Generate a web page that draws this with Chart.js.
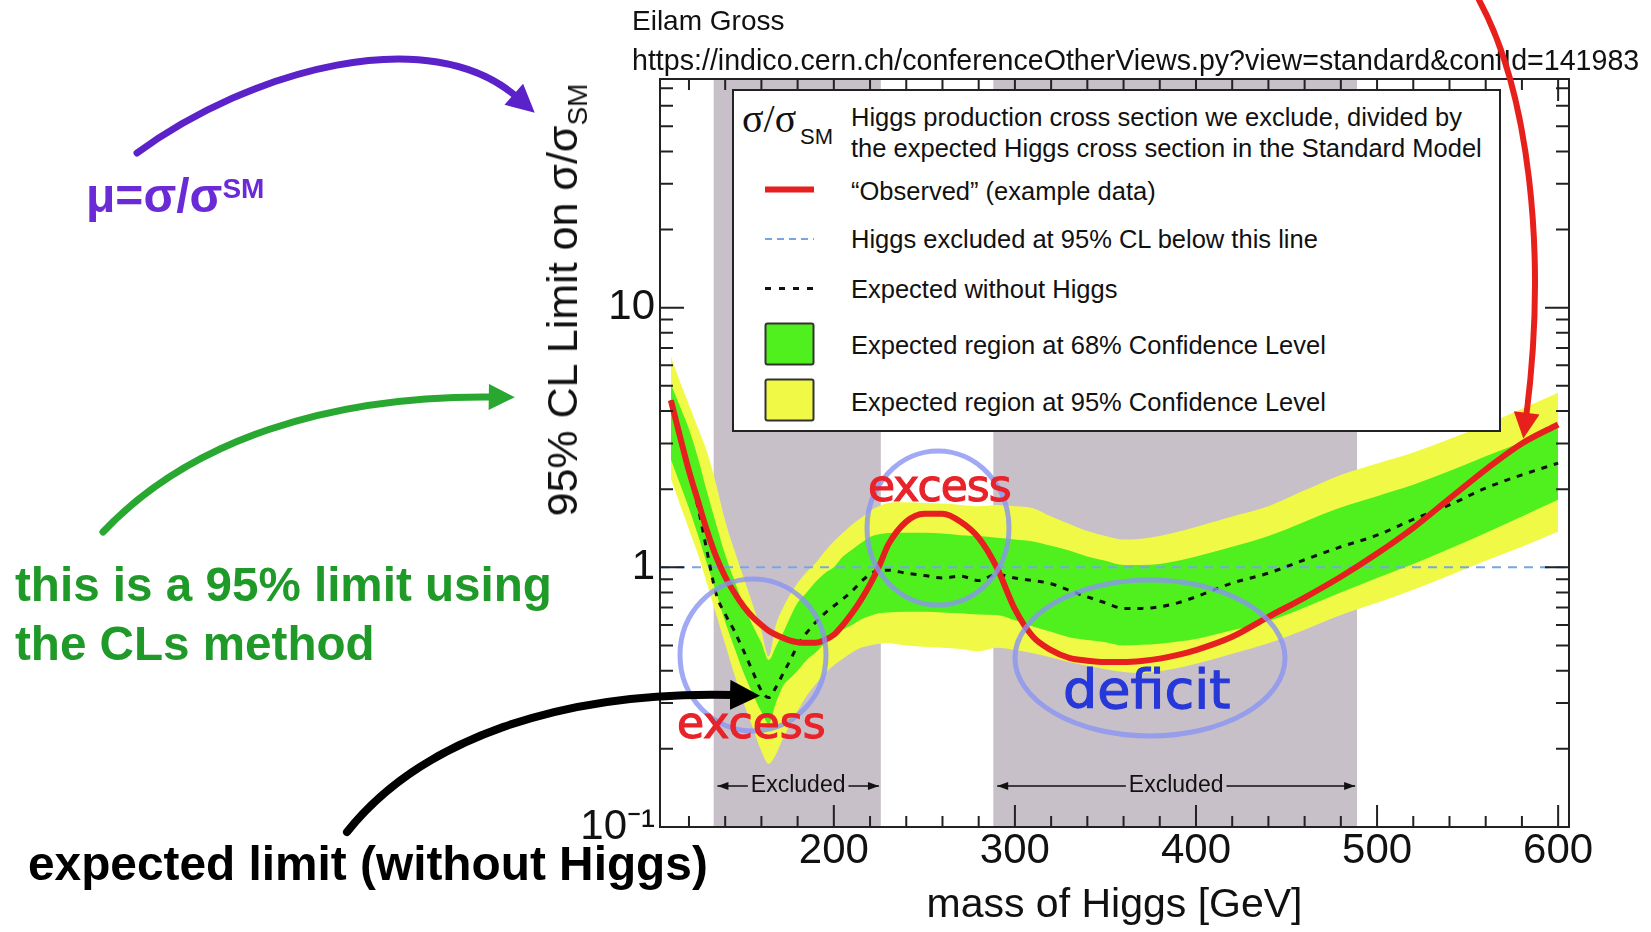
<!DOCTYPE html>
<html>
<head>
<meta charset="utf-8">
<title>95% CL limit on sigma/sigma_SM</title>
<script src="https://cdn.jsdelivr.net/npm/chart.js@4.4.1/dist/chart.umd.min.js"></script>
<style>
  html, body { margin: 0; padding: 0; background: #fff; }
  body { position: relative; width: 1651px; height: 932px; overflow: hidden;
         font-family: "Liberation Sans", Arial, sans-serif; color: #111; }
  #plot { position: absolute; left: 0; top: 0; width: 1651px; height: 932px; }
  .t { position: absolute; white-space: nowrap; }
  .ov { position: absolute; left: 0; top: 0; pointer-events: none; }
  #legend { position: absolute; left: 732px; top: 89px; width: 765px; height: 339px;
            border: 2px solid #222; background: #fff; }
  .lg { font-size: 25.5px; line-height: 25px; left: 851px; }
  .hand { font-family: "DejaVu Sans", sans-serif; -webkit-text-stroke: 1.2px currentColor; }
</style>
</head>
<body>

<div id="plot"><canvas id="chart"></canvas></div>

<div id="legend"></div>

<svg class="ov" width="1651" height="932">
  <!-- legend samples -->
  <line x1="765" y1="189.5" x2="814" y2="189.5" stroke="#e6201e" stroke-width="6"/>
  <line x1="765" y1="239" x2="814" y2="239" stroke="#78a6e4" stroke-width="2" stroke-dasharray="7 5"/>
  <line x1="765" y1="288.5" x2="814" y2="288.5" stroke="#111" stroke-width="3" stroke-dasharray="6 8"/>
  <rect x="765.5" y="323.5" width="48" height="41" rx="2" fill="rgb(80,240,30)" stroke="#333" stroke-width="2"/>
  <rect x="765.5" y="379.5" width="48" height="41" rx="2" fill="rgb(240,250,70)" stroke="#333" stroke-width="2"/>
  <!-- hand drawn circles -->
  <g fill="none" stroke="#8a94f2" stroke-width="5" opacity="0.8">
    <ellipse cx="753" cy="655" rx="73" ry="76"/>
    <ellipse cx="938" cy="528" rx="71" ry="77"/>
    <ellipse cx="1150" cy="658" rx="135" ry="78"/>
  </g>
</svg>

<!-- legend text -->
<div class="t" style="left:742px;top:98.5px;font-family:'Liberation Serif',serif;font-size:40px;line-height:40px">σ/σ</div>
<div class="t" style="left:800px;top:126px;font-size:22px;line-height:22px">SM</div>
<div class="t" style="left:851px;top:101.5px;font-size:25.5px;line-height:31.5px">Higgs production cross section we exclude, divided by<br>the expected Higgs cross section in the Standard Model</div>
<div class="t lg" style="top:179.4px">“Observed” (example data)</div>
<div class="t lg" style="top:226.8px">Higgs excluded at 95% CL below this line</div>
<div class="t lg" style="top:277.4px">Expected without Higgs</div>
<div class="t lg" style="top:333.2px">Expected region at 68% Confidence Level</div>
<div class="t lg" style="top:390px">Expected region at 95% Confidence Level</div>

<!-- axis title -->
<div class="t" style="left:565px;top:300px;font-size:43px;line-height:43px;transform:translate(-50%,-50%) rotate(-90deg)">95% CL Limit on σ/σ<span style="font-size:28px;position:relative;top:10px">SM</span></div>

<!-- slide annotations -->
<div class="t" style="left:632px;top:7px;font-size:28px;line-height:28px">Eilam Gross</div>
<div class="t" style="left:632px;top:45.5px;font-size:28.6px;line-height:29px">https://indico.cern.ch/conferenceOtherViews.py?view=standard&amp;confId=141983</div>
<div class="t" style="left:86px;top:172px;font-size:48px;line-height:47px;font-weight:bold;color:#6a2bd6">μ=σ/σ<span style="font-size:28px;position:relative;top:-14px">SM</span></div>
<div class="t" style="left:15px;top:555px;font-size:47.6px;line-height:59px;font-weight:bold;color:#1f9a28">this is a 95% limit using<br>the CLs method</div>
<div class="t" style="left:28px;top:840px;font-size:47.8px;line-height:47px;font-weight:bold;color:#000">expected limit (without Higgs)</div>
<div class="t hand" style="left:868px;top:464px;font-size:44px;line-height:44px;letter-spacing:-1px;color:#e8232a">excess</div>
<div class="t hand" style="left:677px;top:701px;font-size:44px;line-height:44px;color:#e8232a">excess</div>
<div class="t hand" style="left:1063px;top:663px;font-size:54px;line-height:54px;color:#2638d8">deficit</div>

<svg class="ov" width="1651" height="932">
  <defs>
    <marker id="mP" viewBox="0 0 10 10" refX="2" refY="5" markerWidth="30" markerHeight="28" markerUnits="userSpaceOnUse" orient="auto"><path d="M0,0 L10,5 L0,10 z" fill="#5a22c8"/></marker>
    <marker id="mG" viewBox="0 0 10 10" refX="2" refY="5" markerWidth="30" markerHeight="26" markerUnits="userSpaceOnUse" orient="auto"><path d="M0,0 L10,5 L0,10 z" fill="#28a830"/></marker>
    <marker id="mK" viewBox="0 0 10 10" refX="2" refY="5" markerWidth="30" markerHeight="30" markerUnits="userSpaceOnUse" orient="auto"><path d="M0,0 L10,5 L0,10 z" fill="#000"/></marker>
    <marker id="mR" viewBox="0 0 10 10" refX="2" refY="5" markerWidth="30" markerHeight="26" markerUnits="userSpaceOnUse" orient="auto"><path d="M0,0 L10,5 L0,10 z" fill="#e8201c"/></marker>
  </defs>
  <g fill="none" stroke-linecap="round">
    <path d="M137,153 C250,70 430,20 518,98" stroke="#5a22c8" stroke-width="7" marker-end="url(#mP)"/>
    <path d="M103,532 C190,440 330,395 494,397" stroke="#28a830" stroke-width="7" marker-end="url(#mG)"/>
    <path d="M347,832 C420,740 560,690 736,695" stroke="#000" stroke-width="8" marker-end="url(#mK)"/>
    <path d="M1479,0 C1528,90 1548,250 1526,418" stroke="#e8201c" stroke-width="6" marker-end="url(#mR)"/>
  </g>
</svg>

<script>
const FONT = '"Liberation Sans", Arial, sans-serif';

const X_MIN = 104;
const X_MAX = 606;
const X_TICKS = [200, 300, 400, 500, 600];
const X_TITLE = 'mass of Higgs [GeV]';

const Y_MIN = 0.1;
const Y_MAX = 76;
const Y_TICKS = [0.1, 1, 10];
const Y_TICK_LABELS = ['10⁻¹', '1', '10'];

// excluded mass ranges (grey bands)
const EXCLUDED = [[133.5, 226], [288, 489]];
const EXCLUDED_LABEL = 'Excluded';

const MASS = [110, 115, 120, 125, 130, 135, 140, 145, 150, 155, 160,
  164, 168, 172, 176, 180,
  185, 190, 195, 200, 205, 210, 215, 220, 225, 230,
  240, 250, 260, 270, 280, 290, 300, 310, 320, 330, 340, 350, 360, 370, 380, 390, 400,
  420, 440, 460, 480, 500, 520, 540, 560, 580, 600];

const OBSERVED = [4.4, 3.2, 2.35, 1.8, 1.38, 1.1, 0.92, 0.8, 0.71, 0.645, 0.6,
  0.57, 0.55, 0.535, 0.522, 0.515,
  0.512, 0.512, 0.525, 0.55, 0.6, 0.665, 0.75, 0.86, 1.01, 1.22,
  1.5, 1.61, 1.61, 1.5, 1.3, 1.0, 0.69, 0.54, 0.48, 0.448, 0.437, 0.432, 0.432, 0.436, 0.445, 0.46, 0.48,
  0.54, 0.645, 0.765, 0.92, 1.13, 1.42, 1.84, 2.38, 3.0, 3.55];

const EXPECTED = [4.4, 3.2, 2.33, 1.7, 1.15, 0.79, 0.66, 0.57, 0.48, 0.40, 0.335,
  0.315, 0.345, 0.39, 0.44, 0.5,
  0.56, 0.615, 0.665, 0.71, 0.755, 0.81, 0.88, 0.94, 0.975, 0.975,
  0.95, 0.93, 0.91, 0.925, 0.89, 0.94, 0.91, 0.89, 0.865, 0.815, 0.77, 0.73, 0.695, 0.695, 0.705, 0.73, 0.77,
  0.87, 0.95, 1.07, 1.2, 1.33, 1.53, 1.74, 2.02, 2.27, 2.52];

const GREEN_HI = [5.1, 4.17, 3.41, 2.64, 1.95, 1.47, 1.12, 0.893, 0.722, 0.601, 0.512,
  0.44, 0.496, 0.56, 0.645, 0.73,
  0.8, 0.88, 0.95, 1.0, 1.1, 1.17, 1.24, 1.31, 1.34, 1.355,
  1.36, 1.36, 1.35, 1.33, 1.32, 1.3, 1.28, 1.257, 1.21, 1.16, 1.1, 1.06, 1.02, 1.02, 1.03, 1.06, 1.1,
  1.2, 1.32, 1.5, 1.7, 1.88, 2.08, 2.35, 2.68, 3.03, 3.44];

const GREEN_LO = [2.6, 2.1, 1.69, 1.33, 1.03, 0.8, 0.617, 0.492, 0.395, 0.328, 0.277,
  0.25, 0.3, 0.35, 0.375, 0.4,
  0.44, 0.47, 0.51, 0.54, 0.575, 0.6, 0.63, 0.65, 0.665, 0.67,
  0.675, 0.675, 0.67, 0.665, 0.658, 0.655, 0.625, 0.592, 0.565, 0.538, 0.525, 0.515, 0.5, 0.503, 0.508, 0.518, 0.53,
  0.572, 0.62, 0.7, 0.8, 0.909, 1.03, 1.18, 1.355, 1.57, 1.82];

const YELLOW_HI = [6.5, 5.2, 4.23, 3.43, 2.78, 2.09, 1.51, 1.17, 0.922, 0.725, 0.57,
  0.455, 0.6, 0.7, 0.79, 0.87,
  0.96, 1.04, 1.15, 1.26, 1.36, 1.46, 1.55, 1.65, 1.72, 1.77,
  1.78, 1.77, 1.76, 1.74, 1.72, 1.74, 1.72, 1.69, 1.57, 1.47, 1.38, 1.32, 1.28, 1.29, 1.32, 1.37, 1.43,
  1.57, 1.72, 1.98, 2.27, 2.51, 2.77, 3.12, 3.55, 4.08, 4.7];

const YELLOW_LO = [2.2, 1.75, 1.4, 1.12, 0.863, 0.66, 0.507, 0.388, 0.303, 0.244, 0.196,
  0.175, 0.19, 0.22, 0.25, 0.28,
  0.32, 0.355, 0.39, 0.42, 0.445, 0.47, 0.49, 0.5, 0.508, 0.51,
  0.5, 0.495, 0.49, 0.485, 0.475, 0.49, 0.48, 0.467, 0.45, 0.432, 0.418, 0.405, 0.395, 0.392, 0.398, 0.41, 0.425,
  0.465, 0.51, 0.575, 0.655, 0.73, 0.82, 0.93, 1.06, 1.2, 1.37];

const RED = '#e6201e';
const GREEN = 'rgb(80,240,30)';
const YELLOW = 'rgb(240,250,70)';
const GREY = 'rgb(200,192,200)';

const pts = (ys) => MASS.map((m, i) => ({ x: m, y: ys[i] }));

// inward ticks on all four sides + frame, ROOT style
const frameTicks = {
  id: 'frameTicks',
  afterDatasetsDraw(chart) {
    const { ctx, chartArea: a, scales: { x, y } } = chart;
    ctx.save();
    ctx.strokeStyle = '#222';
    ctx.lineWidth = 2;
    ctx.beginPath();
    for (let v = 120; v <= X_MAX; v += 20) {
      const px = x.getPixelForValue(v);
      const len = X_TICKS.includes(v) ? 22 : 11;
      ctx.moveTo(px, a.bottom); ctx.lineTo(px, a.bottom - len);
      ctx.moveTo(px, a.top); ctx.lineTo(px, a.top + len);
    }
    for (let d = -1; d <= 1; d++) {
      for (let m = 1; m <= 9; m++) {
        const v = m * Math.pow(10, d);
        if (v > Y_MAX) break;
        const py = y.getPixelForValue(v);
        const len = m === 1 ? 24 : 13;
        ctx.moveTo(a.left, py); ctx.lineTo(a.left + len, py);
        ctx.moveTo(a.right, py); ctx.lineTo(a.right - len, py);
      }
    }
    ctx.stroke();
    ctx.strokeRect(a.left, a.top, a.width, a.height);
    ctx.restore();
  }
};

// "<- Excluded ->" markers under the grey bands
const excludedMarks = {
  id: 'excludedMarks',
  afterDatasetsDraw(chart) {
    const { ctx, chartArea, scales: { x } } = chart;
    const yy = chartArea.bottom - 41;
    ctx.save();
    ctx.font = '23px ' + FONT;
    ctx.fillStyle = '#111';
    ctx.strokeStyle = '#111';
    ctx.lineWidth = 1.5;
    ctx.textAlign = 'center';
    ctx.textBaseline = 'middle';
    EXCLUDED.forEach(([lo, hi]) => {
      const x0 = x.getPixelForValue(lo) + 4;
      const x1 = x.getPixelForValue(hi) - 2;
      const xc = (x0 + x1) / 2;
      const half = ctx.measureText(EXCLUDED_LABEL).width / 2 + 3;
      ctx.fillText(EXCLUDED_LABEL, xc, yy);
      ctx.beginPath();
      ctx.moveTo(x0, yy); ctx.lineTo(xc - half, yy);
      ctx.moveTo(xc + half, yy); ctx.lineTo(x1, yy);
      ctx.stroke();
      [[x0, 1], [x1, -1]].forEach(([px, dir]) => {
        ctx.beginPath();
        ctx.moveTo(px, yy);
        ctx.lineTo(px + dir * 11, yy - 4);
        ctx.lineTo(px + dir * 11, yy + 4);
        ctx.closePath();
        ctx.fill();
      });
    });
    ctx.restore();
  }
};

new Chart(document.getElementById('chart'), {
  type: 'line',
  data: {
    datasets: [
      { label: 'Observed', data: pts(OBSERVED), borderColor: RED, borderWidth: 6, fill: false, order: 0 },
      { label: 'Expected', data: pts(EXPECTED), borderColor: '#111', borderWidth: 3, borderDash: [6, 7], fill: false, order: 1 },
      { label: 'SM', data: [{ x: X_MIN, y: 1 }, { x: X_MAX, y: 1 }], borderColor: '#78a6e4', borderWidth: 2,
        borderDash: [9, 7], tension: 0, cubicInterpolationMode: 'default', fill: false, order: 2 },
      { label: '68% high', data: pts(GREEN_HI), borderWidth: 0, borderColor: 'transparent', backgroundColor: GREEN, fill: '+1', order: 3 },
      { label: '68% low', data: pts(GREEN_LO), borderWidth: 0, borderColor: 'transparent', fill: false, order: 4 },
      { label: '95% high', data: pts(YELLOW_HI), borderWidth: 0, borderColor: 'transparent', backgroundColor: YELLOW, fill: '+1', order: 5 },
      { label: '95% low', data: pts(YELLOW_LO), borderWidth: 0, borderColor: 'transparent', fill: false, order: 6 },
      ...EXCLUDED.map(([lo, hi], k) => ({
        label: EXCLUDED_LABEL, data: [{ x: lo, y: Y_MAX }, { x: hi, y: Y_MAX }],
        borderWidth: 0, borderColor: 'transparent', backgroundColor: GREY,
        fill: 'start', tension: 0, cubicInterpolationMode: 'default', order: 7 + k
      }))
    ]
  },
  options: {
    responsive: true,
    maintainAspectRatio: false,
    animation: false,
    events: [],
    elements: {
      point: { radius: 0, hoverRadius: 0 },
      line: { cubicInterpolationMode: 'monotone', borderCapStyle: 'butt' }
    },
    layout: { padding: { left: 560, top: 79, right: 82, bottom: 0 } },
    plugins: { legend: { display: false }, tooltip: { enabled: false } },
    scales: {
      x: {
        type: 'linear', min: X_MIN, max: X_MAX, bounds: 'data',
        grid: { display: false, drawTicks: false },
        border: { display: false },
        afterBuildTicks: (s) => { s.ticks = X_TICKS.map((v) => ({ value: v })); },
        afterFit: (s) => { s.height = 105; },
        ticks: { autoSkip: false, maxRotation: 0, padding: 3, color: '#111',
                 font: { family: FONT, size: 42, lineHeight: 1 }, callback: (v) => String(v) },
        title: { display: true, text: X_TITLE, color: '#111',
                 font: { family: FONT, size: 41, lineHeight: 1.2 }, padding: { top: 0, bottom: 2 } }
      },
      y: {
        type: 'logarithmic', min: Y_MIN, max: Y_MAX, bounds: 'data',
        grid: { display: false, drawTicks: false },
        border: { display: false },
        afterBuildTicks: (s) => { s.ticks = Y_TICKS.map((v) => ({ value: v })); },
        afterFit: (s) => { s.width = 100; },
        ticks: { autoSkip: false, padding: 5, color: '#111',
                 font: { family: FONT, size: 42, lineHeight: 1 },
                 callback: (v) => Y_TICK_LABELS[Y_TICKS.indexOf(v)] }
      }
    }
  },
  plugins: [excludedMarks, frameTicks]
});
</script>
</body>
</html>
